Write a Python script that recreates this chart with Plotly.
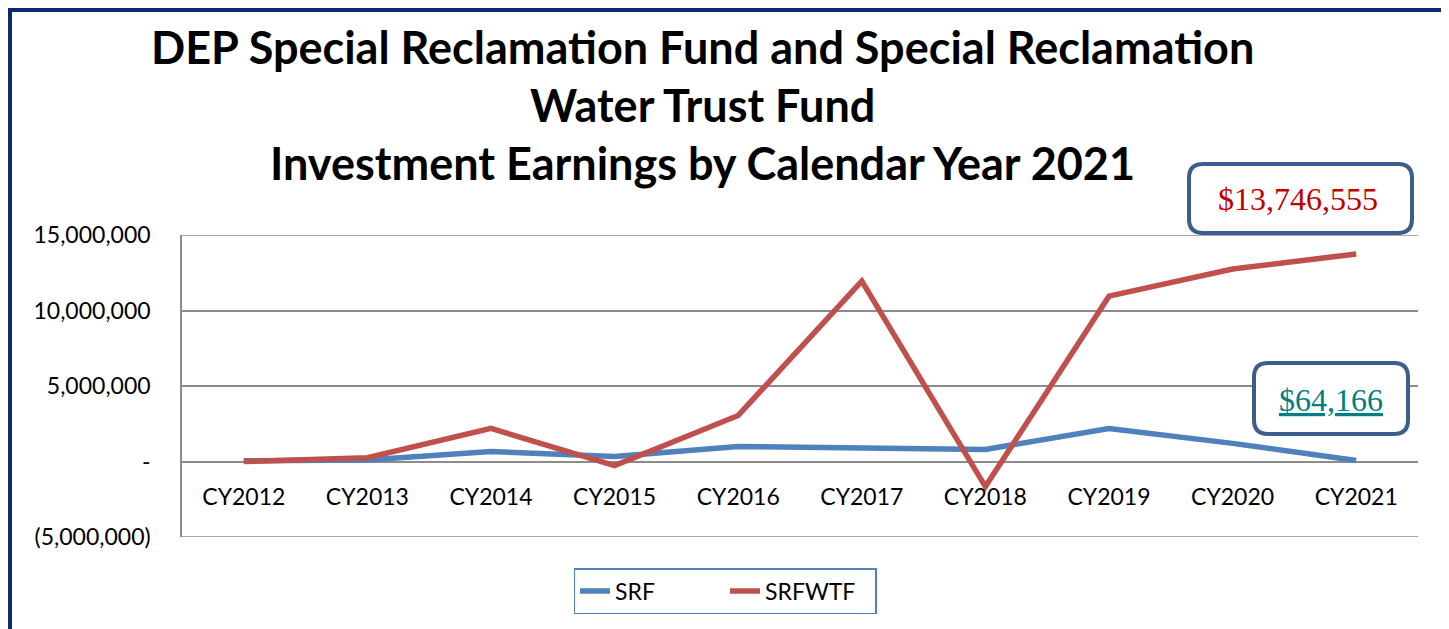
import plotly.graph_objects as go

categories = ["CY2012", "CY2013", "CY2014", "CY2015", "CY2016",
              "CY2017", "CY2018", "CY2019", "CY2020", "CY2021"]
srf = [50000, 100000, 660000, 330000, 1000000, 930000, 800000, 2190000, 1200000, 64166]
srfwtf = [0, 250000, 2190000, -270000, 3050000, 11950000, -1660000, 10950000, 12750000, 13746555]
y_tickvals = [-5000000, 0, 5000000, 10000000, 15000000]
y_ticktext = ["(5,000,000)", "-", "5,000,000", "10,000,000", "15,000,000"]
title_lines = ["DEP Special Reclamation Fund and Special Reclamation",
               "Water Trust Fund",
               "Investment Earnings by Calendar Year 2021"]
callout_srfwtf = "$13,746,555"
callout_srf = "<u>$64,166</u>"

W, H = 1449, 629
OFF = 8  # page body margin: screen px = figure px + OFF
# plot area in screen pixels
L, R, T, B = 182, 1418, 235, 537


def px(x):
    return (x - L) / (R - L)


def py(y):
    return (B - y) / (B - T)


def rounded_rect(x0, y0, x1, y1, r):
    rx = r / (R - L)
    ry = r / (B - T)
    X0, X1 = px(x0), px(x1)
    Y0, Y1 = py(y1), py(y0)
    return (f"M {X0+rx},{Y1} L {X1-rx},{Y1} Q {X1},{Y1} {X1},{Y1-ry} "
            f"L {X1},{Y0+ry} Q {X1},{Y0} {X1-rx},{Y0} "
            f"L {X0+rx},{Y0} Q {X0},{Y0} {X0},{Y0+ry} "
            f"L {X0},{Y1-ry} Q {X0},{Y1} {X0+rx},{Y1} Z")


fig = go.Figure()
fig.add_trace(go.Scatter(x=categories, y=srf, name="SRF", mode="lines",
                         line=dict(color="#4f81bd", width=5.5)))
fig.add_trace(go.Scatter(x=categories, y=srfwtf, name="SRFWTF", mode="lines",
                         line=dict(color="#c0504d", width=5.5)))

font_main = "Lato, 'Open Sans', sans-serif"
grid_col = "#8c8c8c"

fig.update_layout(
    width=W, height=H,
    margin=dict(l=L - OFF, r=W - (R - OFF), t=T - OFF, b=H - (B - OFF), pad=0,
                autoexpand=False),
    paper_bgcolor="white", plot_bgcolor="white",
    showlegend=True,
    legend=dict(orientation="h", x=px(725), y=py(591), xanchor="center", yanchor="middle",
                bordercolor="#4f81bd", borderwidth=1.5, bgcolor="white",
                entrywidth=105,
                font=dict(family=font_main, size=23, color="black")),
    xaxis=dict(type="category", range=[-0.5, 9.5], anchor="free", position=py(461),
               showgrid=False, showline=False, zeroline=False, ticks="",
               tickfont=dict(family=font_main, size=23, color="black"),
               ticklabelstandoff=20),
    yaxis=dict(range=[-5000000, 15000000], tickvals=y_tickvals, ticktext=y_ticktext,
               showgrid=True, gridcolor=grid_col, gridwidth=1.5,
               showline=True, linecolor=grid_col, linewidth=1.5, zeroline=False,
               ticks="", tickfont=dict(family=font_main, size=23, color="black"),
               ticklabelstandoff=25),
)

# edge gridlines (top and bottom) that plotly omits at the range limits
for v in (y_tickvals[0], y_tickvals[-1]):
    fig.add_shape(type="line", xref="paper", yref="y", x0=0, x1=1, y0=v, y1=v,
                  line=dict(color=grid_col, width=1.5), layer="below")

# title lines
for txt, yc in zip(title_lines, [47, 105, 163]):
    fig.add_annotation(text=f"<b>{txt}</b>", xref="paper", yref="paper",
                       x=px(702), y=py(yc), xanchor="center", yanchor="middle",
                       showarrow=False, font=dict(family=font_main, size=45, color="black"))

# callout boxes
fig.add_shape(type="path", xref="paper", yref="paper",
              path=rounded_rect(1189, 164, 1412, 233, 14),
              line=dict(color="#3b5e8c", width=4), fillcolor="white", layer="above")
fig.add_shape(type="path", xref="paper", yref="paper",
              path=rounded_rect(1254, 363, 1408, 434, 14),
              line=dict(color="#3b5e8c", width=4), fillcolor="white", layer="above")
fig.add_annotation(text=callout_srfwtf, xref="paper", yref="paper",
                   x=px(1298), y=py(199), xanchor="center", yanchor="middle",
                   showarrow=False,
                   font=dict(family="'Liberation Serif', 'Times New Roman', serif", size=32, color="#c00000"))
fig.add_annotation(text=callout_srf, xref="paper", yref="paper",
                   x=px(1331), y=py(400), xanchor="center", yanchor="middle",
                   showarrow=False,
                   font=dict(family="'Liberation Serif', 'Times New Roman', serif", size=32, color="#008080"))

# outer frame (kept inside the figure area)
fig.add_shape(type="rect", xref="paper", yref="paper",
              x0=px(10), x1=px(1445), y0=py(660), y1=py(10),
              line=dict(color="#0d2a6e", width=4), fillcolor="rgba(0,0,0,0)", layer="above")

fig.write_html("out.html")
